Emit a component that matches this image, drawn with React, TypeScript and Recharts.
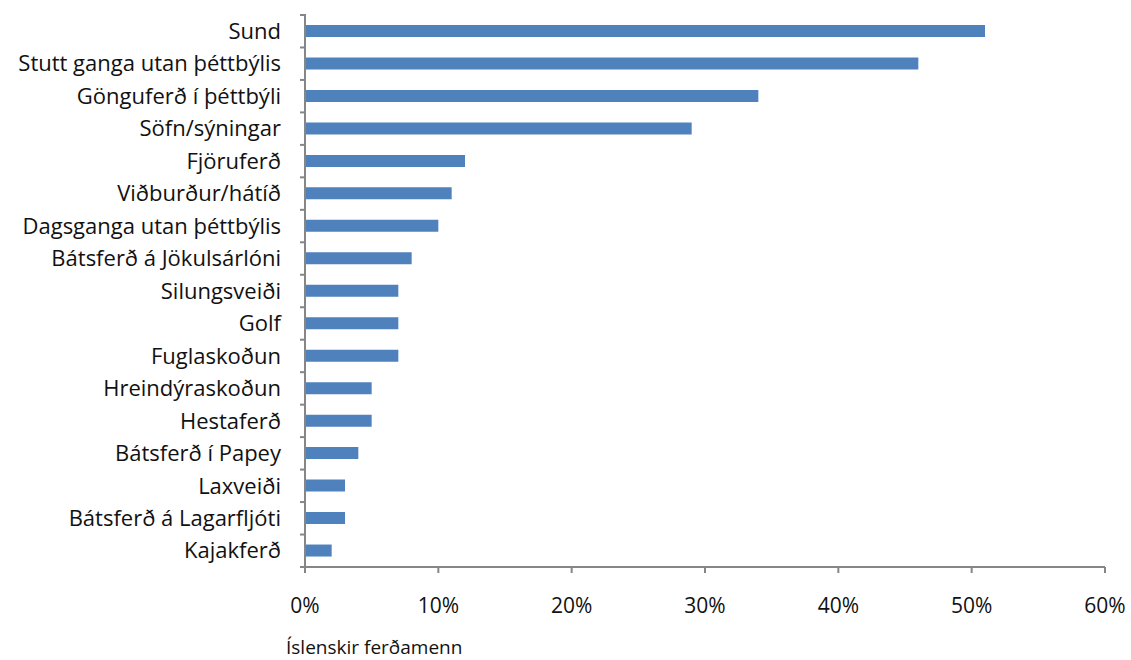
import React from "react";
import { BarChart, Bar, XAxis, YAxis } from "recharts";

const categories = [
  "Sund",
  "Stutt ganga utan þéttbýlis",
  "Gönguferð í þéttbýli",
  "Söfn/sýningar",
  "Fjöruferð",
  "Viðburður/hátíð",
  "Dagsganga utan þéttbýlis",
  "Bátsferð á Jökulsárlóni",
  "Silungsveiði",
  "Golf",
  "Fuglaskoðun",
  "Hreindýraskoðun",
  "Hestaferð",
  "Bátsferð í Papey",
  "Laxveiði",
  "Bátsferð á Lagarfljóti",
  "Kajakferð",
];
const shares = [51, 46, 34, 29, 12, 11, 10, 8, 7, 7, 7, 5, 5, 4, 3, 3, 2];
const xTicks = [0, 10, 20, 30, 40, 50, 60];

const data = categories.map((name, i) => ({ name, value: shares[i] }));

const W = 1131;
const H = 660;
const TOP = 15;
const BOTTOM = 93;
const X_AXIS_H = 60;
const AXIS = "#868686";
const FONT = "'Open Sans', sans-serif";
const band = (H - TOP - BOTTOM) / categories.length;

const CategoryTick = (props: any) => {
  const { x, y, payload, index } = props;
  const last = index === categories.length - 1;
  return (
    <g>
      <line x1={x + 1} x2={x - 5} y1={y - band / 2} y2={y - band / 2} stroke={AXIS} strokeWidth={2} />
      {last && (
        <line x1={x + 1} x2={x - 5} y1={y + band / 2} y2={y + band / 2} stroke={AXIS} strokeWidth={2} />
      )}
      <text x={x - 24} y={y} dy="0.35em" textAnchor="end" fill="#111" fontSize={22} fontFamily={FONT}>
        {payload.value}
      </text>
    </g>
  );
};

export default function App() {
  return (
    <div style={{ position: "absolute", left: 0, top: 0, width: W, height: H, background: "#fff" }}>
      <BarChart
        width={W}
        height={H}
        data={data}
        layout="vertical"
        margin={{ top: TOP, right: 26, bottom: BOTTOM - X_AXIS_H, left: 0 }}
        barCategoryGap={0}
      >
        <XAxis
          type="number"
          domain={[0, 60]}
          ticks={xTicks}
          tickFormatter={(v) => `${v}%`}
          height={X_AXIS_H}
          axisLine={{ stroke: AXIS, strokeWidth: 2 }}
          tickLine={{ stroke: AXIS, strokeWidth: 2 }}
          tickSize={6}
          tickMargin={25}
          tick={{ fill: "#111", fontSize: 21, fontFamily: FONT }}
          interval={0}
        />
        <YAxis
          type="category"
          dataKey="name"
          width={305}
          axisLine={{ stroke: AXIS, strokeWidth: 2 }}
          tickLine={false}
          tickSize={0}
          tickMargin={0}
          tick={<CategoryTick />}
          interval={0}
        />
        <Bar dataKey="value" fill="#4F81BD" barSize={12} isAnimationActive={false} />
      </BarChart>
      <div
        style={{
          position: "absolute",
          left: 286,
          top: 634,
          fontFamily: FONT,
          fontSize: 19,
          color: "#111",
          whiteSpace: "nowrap",
        }}
      >
        Íslenskir ferðamenn
      </div>
    </div>
  );
}
